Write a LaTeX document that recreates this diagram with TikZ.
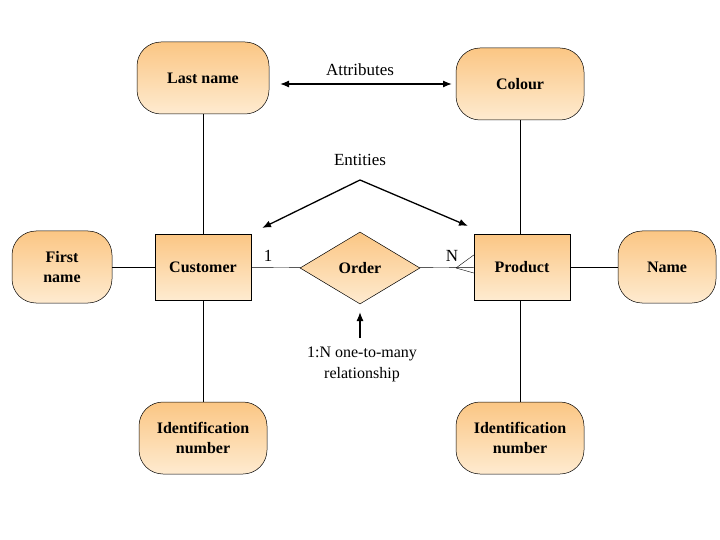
\documentclass[tikz,border=0pt]{standalone}
\usepackage{fontspec}
\setmainfont{Liberation Serif}
\usetikzlibrary{shapes.geometric,arrows.meta}
\definecolor{topc}{HTML}{FBC684}
\definecolor{botc}{HTML}{FEEBD0}
\begin{document}
\begin{tikzpicture}[x=1pt,y=-1pt,
  fill grad/.style={top color=topc,bottom color=botc,draw=black,line width=0.5pt},
  box font/.style={font=\bfseries\fontsize{16}{20}\selectfont},
  attr/.style={fill grad,rounded corners=24pt,minimum width=#1,minimum height=72pt,align=center,inner sep=2pt,box font},
  attr/.default=128pt,
  ent/.style={fill grad,minimum width=96pt,minimum height=66pt,inner sep=2pt,box font},
  rel/.style={fill grad,diamond,aspect=1.67,minimum width=120pt,minimum height=72pt,inner sep=0pt,box font},
  lab/.style={font=\fontsize{17}{20}\selectfont,align=center},
  ptr/.style={-{Latex[length=9pt,width=7pt]},line width=1.3pt}]
\useasboundingbox (0,0) rectangle (720,540);
\node[attr=132pt] (last) at (203,78) {Last name};
\node[attr] (colour) at (520,84) {Colour};
\node[attr=100pt] (first) at (62,267) {First\\name};
\node[attr=98pt] (name) at (667,267) {Name};
\node[ent] (cust) at (203,267) {Customer};
\node[ent] (prod) at (522,267) {Product};
\node[rel] (order) at (360,268) {Order};
\node[attr] (id1) at (203,438) {Identification\\number};
\node[attr] (id2) at (520,438) {Identification\\number};
\draw (last) -- (cust);
\draw (cust) -- (id1);
\draw (colour) -- (colour |- prod.north);
\draw (id2) -- (id2 |- prod.south);
\draw (first) -- (cust);
\draw (cust) -- (order);
\draw (order) -- (prod);
\draw (prod) -- (name);
% crow's foot
\coordinate (cf) at (456,268);
\draw (cf) -- (prod.west |- 0,255);
\draw (cf) -- (prod.west |- 0,273);
\node[lab] (one) at (268,256) {1};
\node[lab] (n) at (452,256) {N};
\node[lab] (attrt) at (360,70) {Attributes};
\coordinate (a1) at (280,84);
\coordinate (a2) at (452,84);
\draw[{Latex[length=9pt,width=7pt]}-{Latex[length=9pt,width=7pt]},line width=1.3pt] (a1) -- (a2);
\node[lab] (entt) at (360,160) {Entities};
\coordinate (e0) at (360,180);
\coordinate (e1) at (262,228);
\coordinate (e2) at (468,226);
\draw[ptr] (e0) -- (e1);
\draw[ptr] (e0) -- (e2);
\node[lab,font=\fontsize{16}{21}\selectfont] (rt) at (362,364) {1:N one-to-many\\relationship};
\coordinate (r0) at (360,338);
\coordinate (r1) at (360,312);
\draw[ptr] (r0) -- (r1);
\end{tikzpicture}
\end{document}
